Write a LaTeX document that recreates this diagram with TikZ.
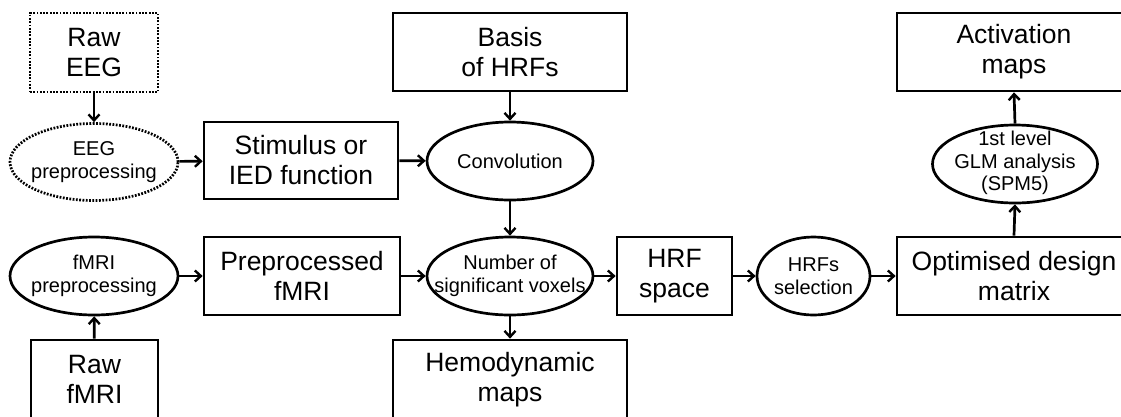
\documentclass[tikz,border=0pt]{standalone}
\usepackage{fontspec}
\setmainfont{Liberation Sans}
\usetikzlibrary{shapes.geometric,arrows.meta}
\begin{document}
\begin{tikzpicture}[x=1pt,y=-1pt,
  base/.style={line width=2.7pt,align=center,inner sep=0pt},
  bigbox/.style={base,draw,rectangle,font=\fontsize{26.5}{30}\selectfont},
  oval/.style={base,draw,ellipse},
  ovaltext/.style={align=center,inner sep=0pt,font=\fontsize{20}{22.5}\selectfont},
  dotline/.style={dash pattern=on 1.8pt off 1.5pt},
  arr/.style={line width=2.7pt,-{Straight Barb[length=6pt,width=11pt,line width=2.4pt]}}]
\useasboundingbox (0,0) rectangle (1121,416);
\clip (0,0) rectangle (1121,416);
\node[bigbox,dotline,minimum width=128pt,minimum height=79pt] (raweeg) at (94,52.5) {Raw\\EEG};
\node[oval,dotline,minimum width=168pt,minimum height=77pt] (eegpre) at (94,162) {};
\node[ovaltext] (eegpret) at (eegpre) {EEG\\preprocessing};
\node[bigbox,minimum width=194pt,minimum height=77pt] (stim) at (301,160.5) {Stimulus or\\IED function};
\node[bigbox,minimum width=234pt,minimum height=78pt] (basis) at (510,52) {Basis\\of HRFs};
\node[oval,minimum width=166pt,minimum height=78pt] (conv) at (510,161) {};
\node[ovaltext] (convt) at (conv) {Convolution};
\node[bigbox,minimum width=234pt,minimum height=78pt] (act) at (1014,52) {Activation\\maps};
\node[oval,minimum width=165pt,minimum height=78pt] (glm) at (1015,164) {};
\node[ovaltext] (glmt) at ([yshift=1pt]glm) {1st level\\GLM analysis\\(SPM5)};
\node[oval,minimum width=168pt,minimum height=78pt] (fmripre) at (94,276) {};
\node[ovaltext] (fmripret) at (fmripre) {fMRI\\preprocessing};
\node[bigbox,minimum width=196pt,minimum height=78pt] (prep) at (302,276) {Preprocessed\\fMRI};
\node[bigbox,minimum width=127pt,minimum height=79pt] (rawfmri) at (94.5,379.5) {Raw\\fMRI};
\node[oval,minimum width=166pt,minimum height=78pt] (num) at (510,276) {};
\node[ovaltext] (numt) at (num) {Number of\\significant voxels};
\node[bigbox,minimum width=234pt,minimum height=79pt] (hemo) at (510,379.5) {Hemodynamic\\maps};
\node[bigbox,minimum width=115pt,minimum height=78pt] (hrf) at (674.5,276) {HRF\\space};
\node[oval,minimum width=113pt,minimum height=78pt] (sel) at (813.5,276) {};
\node[ovaltext] (selt) at (sel) {HRFs\\selection};
\node[bigbox,minimum width=234pt,minimum height=78pt] (opt) at (1014,276) {Optimised design\\matrix};
\draw[arr] (raweeg) -- (eegpre);
\draw[arr] (eegpre) -- (stim);
\draw[arr] (stim) -- (conv);
\draw[arr] (basis) -- (conv);
\draw[arr] (conv) -- (num);
\draw[arr] (rawfmri) -- (fmripre);
\draw[arr] (fmripre) -- (prep);
\draw[arr] (prep) -- (num);
\draw[arr] (num) -- (hemo);
\draw[arr] (num) -- (hrf);
\draw[arr] (hrf) -- (sel);
\draw[arr] (sel) -- (opt);
\draw[arr] (opt.north) -- (glm.south);
\draw[arr] (glm.north) -- (act.south);
\end{tikzpicture}
\end{document}
